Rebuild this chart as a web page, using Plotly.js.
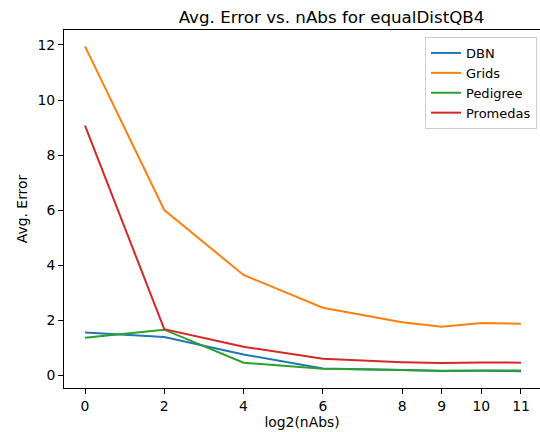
<!DOCTYPE html>
<html>
<head>
<meta charset="utf-8">
<script src="https://cdn.plot.ly/plotly-3.0.1.min.js"></script>
<style>html,body{margin:0;padding:0;background:#fff;}#chart{width:540px;height:432px;}</style>
</head>
<body>
<div id="chart"></div>
<script>
const xVals = [0, 2, 4, 6, 8, 9, 10, 11];
const tickVals = [0, 2, 4, 6, 8, 9, 10, 11];
const tickLabels = ["0", "2", "4", "6", "8", "9", "10", "11"];
const seriesNames = ["DBN", "Grids", "Pedigree", "Promedas"];
const dbn = [1.55, 1.38, 0.75, 0.24, 0.18, 0.15, 0.16, 0.14];
const grids = [11.95, 6.0, 3.64, 2.45, 1.92, 1.76, 1.89, 1.87];
const pedigree = [1.36, 1.65, 0.45, 0.23, 0.18, 0.16, 0.17, 0.17];
const promedas = [9.07, 1.67, 1.03, 0.59, 0.47, 0.44, 0.46, 0.45];
const colors = ["#1f77b4", "#ff7f0e", "#2ca02c", "#d62728"];
const allSeries = [dbn, grids, pedigree, promedas];

const traces = allSeries.map((ys, i) => ({
  x: xVals, y: ys, name: seriesNames[i], type: "scatter", mode: "lines",
  line: {color: colors[i], width: 2}
}));

const font = {family: "DejaVu Sans", size: 13.9, color: "#000"};
const layout = {
  width: 540, height: 432,
  margin: {l: 64, r: 0, t: 30, b: 44},
  paper_bgcolor: "#fff", plot_bgcolor: "#fff",
  font: font,
  title: {text: "Avg. Error vs. nAbs for equalDistQB4", font: {family: "DejaVu Sans", size: 16.7, color: "#000"},
          x: 303.5/540, xref: "paper", xanchor: "center", y: 1 - 17/432, yanchor: "middle"},
  xaxis: {
    range: [-0.53, 11.48], tickmode: "array", tickvals: tickVals, ticktext: tickLabels,
    showgrid: false, zeroline: false, showline: true, mirror: true, linecolor: "#000", linewidth: 1,
    ticks: "outside", ticklen: 5, tickcolor: "#000", tickwidth: 1,
    tickfont: font,
    title: {text: "log2(nAbs)", font: font, standoff: 3}
  },
  yaxis: {
    range: [-0.47, 12.545], tickmode: "array", tickvals: [0, 2, 4, 6, 8, 10, 12],
    showgrid: false, zeroline: false, showline: true, mirror: false, linecolor: "#000", linewidth: 1,
    ticks: "outside", ticklen: 5, tickcolor: "#000", tickwidth: 1,
    tickfont: font,
    title: {text: "Avg. Error", font: font, standoff: 6}
  },
  legend: {
    x: 1 - 3/476, xref: "paper", xanchor: "right", y: 1 - (37-30)/358, yanchor: "top",
    bgcolor: "rgba(255,255,255,0.8)", bordercolor: "#cccccc", borderwidth: 1,
    font: {family: "DejaVu Sans", size: 13, color: "#000"}, tracegroupgap: 0, itemwidth: 30
  },
  showlegend: true
};
Plotly.newPlot("chart", traces, layout, {staticPlot: true, displayModeBar: false});
</script>
</body>
</html>
